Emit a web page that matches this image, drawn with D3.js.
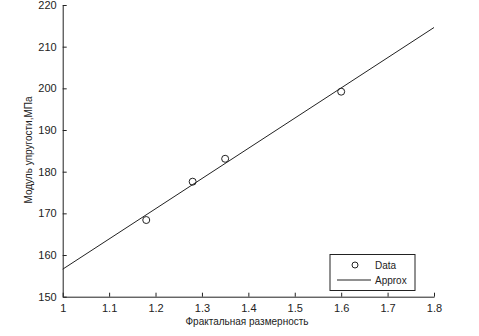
<!DOCTYPE html>
<html>
<head>
<meta charset="utf-8">
<script src="https://cdn.jsdelivr.net/npm/d3@7"></script>
<style>
  body { margin: 0; background: #fff; }
  text { font-family: "Liberation Sans", Arial, sans-serif; fill: #222; }
</style>
</head>
<body>
<div id="chart"></div>
<script>
// data
const dataX = [1.18, 1.28, 1.35, 1.60];
const dataY = [168.4, 177.6, 183.1, 199.2];
const approxX = [1.0, 1.8];
const approxY = [156.6, 214.6];
const xTicks = [1, 1.1, 1.2, 1.3, 1.4, 1.5, 1.6, 1.7, 1.8];
const yTicks = [150, 160, 170, 180, 190, 200, 210, 220];

const w = 479;
const h = 336;

const x = d3.scaleLinear().domain([1, 1.8]).range([62.7, 434]);
const y = d3.scaleLinear().domain([150, 220]).range([296.7, 5]);

const svg = d3.select('#chart')
  .append('svg')
  .attr('width', w)
  .attr('height', h);

//Axes (ticks point inward)
const xAxis = svg.append('g')
  .attr('transform', 'translate(0,' + y(150) + ')')
  .call(d3.axisBottom(x).tickValues(xTicks).tickSizeInner(-4).tickSizeOuter(0).tickPadding(8)
    .tickFormat(d => d === 1 ? '1' : d3.format('.1f')(d)));

const yAxis = svg.append('g')
  .attr('transform', 'translate(' + x(1) + ',0)')
  .call(d3.axisLeft(y).tickValues(yTicks).tickSizeInner(-4).tickSizeOuter(0).tickPadding(6));

[xAxis, yAxis].forEach(g => {
  g.select('.domain').attr('stroke', '#222');
  g.selectAll('.tick line').attr('stroke', '#222');
  g.selectAll('.tick text').attr('font-size', 11).attr('fill', '#333')
    .attr('font-family', '"Liberation Sans", Arial, sans-serif');
});

//Approx line
svg.append('path')
  .datum(approxX.map((v, i) => [v, approxY[i]]))
  .attr('fill', 'none')
  .attr('stroke', '#222')
  .attr('stroke-width', 1)
  .attr('d', d3.line().x(d => x(d[0])).y(d => y(d[1])));

//Data points
svg.selectAll('circle.pt')
  .data(dataX.map((v, i) => [v, dataY[i]]))
  .enter()
  .append('circle')
  .attr('class', 'pt')
  .attr('cx', d => x(d[0]))
  .attr('cy', d => y(d[1]))
  .attr('r', 3.5)
  .attr('fill', 'none')
  .attr('stroke', '#222');

//Axis labels
svg.append('text')
  .attr('x', 247)
  .attr('y', 325)
  .attr('text-anchor', 'middle')
  .attr('font-size', 10)
  .text('Фрактальная размерность');

svg.append('text')
  .attr('transform', 'translate(32,150) rotate(-90)')
  .attr('text-anchor', 'middle')
  .attr('font-size', 10)
  .text('Модуль упругости,МПа');

//Legend
const legend = svg.append('g');
legend.append('rect')
  .attr('x', 330).attr('y', 254.5)
  .attr('width', 85).attr('height', 36)
  .attr('fill', '#fff').attr('stroke', '#222');
legend.append('circle')
  .attr('cx', 355).attr('cy', 265).attr('r', 3)
  .attr('fill', 'none').attr('stroke', '#222');
legend.append('text')
  .attr('x', 375).attr('y', 269).attr('font-size', 10).text('Data');
legend.append('line')
  .attr('x1', 337).attr('x2', 371).attr('y1', 280).attr('y2', 280)
  .attr('stroke', '#222');
legend.append('text')
  .attr('x', 375).attr('y', 284).attr('font-size', 10).text('Approx');
</script>
</body>
</html>
